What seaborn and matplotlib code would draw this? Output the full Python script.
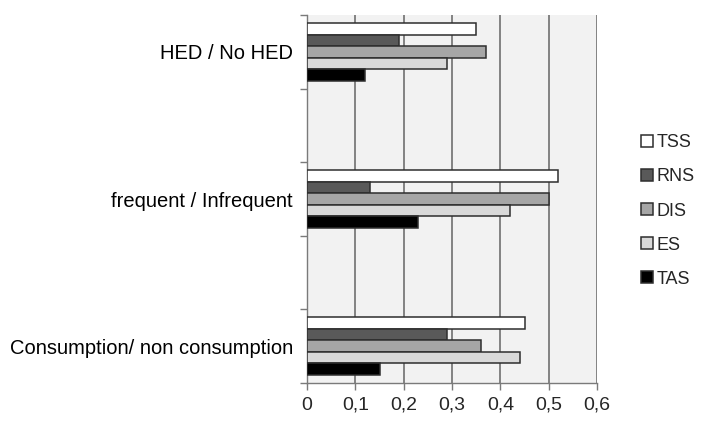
import matplotlib
matplotlib.use("Agg")
import matplotlib.pyplot as plt
import seaborn as sns
import pandas as pd
from matplotlib.ticker import FuncFormatter, FixedLocator

categories = ["HED / No HED", "frequent / Infrequent", "Consumption/ non consumption"]
slots = ["HED / No HED", " ", "frequent / Infrequent", "  ", "Consumption/ non consumption"]
series = ["TSS", "RNS", "DIS", "ES", "TAS"]
TSS = [0.35, 0.52, 0.45]
RNS = [0.19, 0.13, 0.29]
DIS = [0.37, 0.50, 0.36]
ES = [0.29, 0.42, 0.44]
TAS = [0.12, 0.23, 0.15]
colors = ["#ffffff", "#595959", "#a6a6a6", "#d9d9d9", "#000000"]
xticks = [0, 0.1, 0.2, 0.3, 0.4, 0.5, 0.6]

values = {"TSS": TSS, "RNS": RNS, "DIS": DIS, "ES": ES, "TAS": TAS}
rows = []
for s in series:
    for c, v in zip(categories, values[s]):
        rows.append({"category": c, "series": s, "value": v})
df = pd.DataFrame(rows)

sns.set_style("white")
plt.rcParams["font.family"] = ["Liberation Sans", "DejaVu Sans"]

fig = plt.figure(figsize=(7.08, 4.24), dpi=100)
ax = fig.add_axes([307/708, 1-383/424, 290/708, 368/424])
ax.set_facecolor("#f2f2f2")

sns.barplot(data=df, y="category", x="value", hue="series", order=slots,
            hue_order=series, palette=colors, orient="h", errorbar=None,
            width=0.78, edgecolor="#2e2e2e", linewidth=1.1, ax=ax, zorder=3)

ax.set_xlim(0, 0.6)
ax.set_ylim(4.5, -0.5)
ax.set_xticks(xticks)
ax.xaxis.set_major_formatter(FuncFormatter(lambda v, p: ("%g" % round(v, 1)).replace(".", ",")))
ax.grid(axis="x", color="#7a7a7a", linewidth=1.3, zorder=1)
ax.grid(axis="y", visible=False)
ax.set_axisbelow(True)

ax.set_yticks(range(5))
ax.set_yticklabels(slots)
ax.yaxis.set_minor_locator(FixedLocator([-0.5, 0.5, 1.5, 2.5, 3.5, 4.5]))
ax.tick_params(axis="y", which="major", length=0, pad=10, labelsize=14.5, colors="#000000")
ax.tick_params(axis="y", which="minor", length=5, width=1, color="#7a7a7a", left=True)
ax.tick_params(axis="x", which="major", length=5, width=1, color="#7a7a7a", labelsize=14, pad=5, bottom=True)
ax.set_xlabel("")
ax.set_ylabel("")

for side in ["top", "right"]:
    ax.spines[side].set_visible(False)
for side in ["left", "bottom"]:
    ax.spines[side].set_visible(True)
    ax.spines[side].set_color("#7a7a7a")
    ax.spines[side].set_linewidth(1.0)

handles, labels = ax.get_legend_handles_labels()
ax.legend(handles, labels, loc="center left", bbox_to_anchor=(634/708, 1-211/424),
          bbox_transform=fig.transFigure, frameon=False, fontsize=13,
          handlelength=0.65, handleheight=0.65, handletextpad=0.2, labelspacing=0.95,
          borderaxespad=0)

fig.savefig("out.png", dpi=100)
